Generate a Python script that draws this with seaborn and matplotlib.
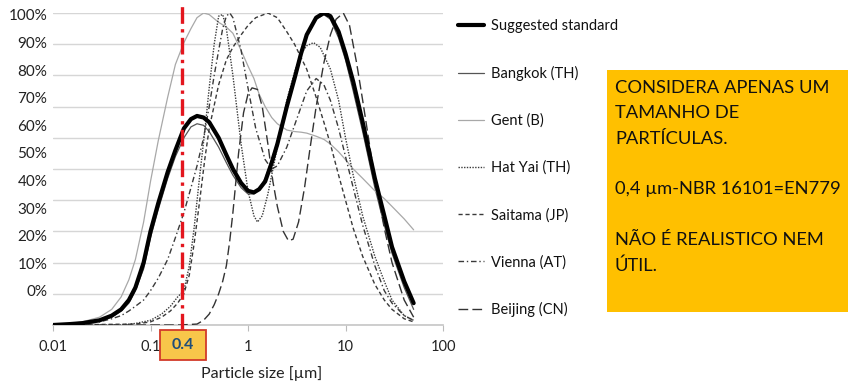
import numpy as np
import matplotlib.pyplot as plt
import matplotlib.ticker as mticker
from matplotlib.patches import Rectangle
import seaborn as sns

sns.set_theme(style="white")
plt.rcParams["font.family"] = ["Lato", "DejaVu Sans"]

# ---------------------------------------------------------------
# DATA (y = share of peak, %)
# ---------------------------------------------------------------
grid_x = [0.01, 0.015, 0.02, 0.03, 0.04, 0.05, 0.06, 0.07, 0.085, 0.1, 0.12, 0.15,
          0.18, 0.22, 0.26, 0.3, 0.35, 0.4, 0.5, 0.6, 0.7, 0.85, 1.0, 1.15, 1.3,
          1.5, 1.75, 2.0, 2.5, 3.0, 3.5, 4.0, 5.0, 6.0, 7.0, 8.5, 10, 12, 15, 20,
          25, 30, 40, 50]

standard_y = [0, 0.3, 0.6, 1.5, 3, 5, 8, 12, 20, 30, 39, 49, 56, 63, 66, 67, 66.5,
              65, 60, 54.5, 50, 45.5, 43, 42.5, 43.5, 46, 52, 58, 70, 79, 87, 93,
              98.5, 100, 99, 94, 87, 78, 65, 47, 35, 25, 14, 7]

bangkok_y = [0, 0.2, 0.4, 1.2, 2.5, 4.5, 7, 11, 18, 28, 37, 47, 54, 60, 63.5, 64.5,
             64, 62, 57, 52, 48, 44, 42, 42, 43.5, 47, 53, 59, 71, 80, 88, 93.5, 98,
             99.5, 98, 92, 85, 75, 62, 44, 32, 23, 12, 5]

gent_y = [0, 0.5, 1, 2.5, 5, 9, 14.5, 21, 33, 46, 59, 73, 83.5, 90.5, 95, 98.5, 100,
          99.5, 97, 95.5, 93.5, 88, 83, 79, 74, 70, 66.5, 64.5, 62.5, 62, 61.8, 61.5,
          60.5, 59.5, 58, 55.5, 53, 50, 47, 43, 40.5, 38, 34, 30.5]

hatyai_x = [0.01, 0.05, 0.07, 0.1, 0.13, 0.16, 0.19, 0.22, 0.25, 0.28, 0.32, 0.36,
            0.4, 0.45, 0.5, 0.55, 0.6, 0.7, 0.85, 1.0, 1.15, 1.25, 1.4, 1.6, 2.0,
            2.5, 3.0, 3.5, 4.0, 4.7, 5.5, 7, 8.5, 10, 12, 15, 20, 25, 30, 40, 50]
hatyai_y = [0, 0, 0.5, 1.5, 3.5, 6, 9, 11, 19, 31, 48, 62, 76, 90, 99, 99.5, 95, 80,
            58, 43, 35, 33, 35, 42, 57, 72, 81, 87, 89.5, 90.5, 89, 82, 72, 60, 48,
            35, 22, 14, 8, 3, 1.5]

saitama_x = [0.01, 0.07, 0.1, 0.13, 0.16, 0.19, 0.22, 0.25, 0.28, 0.32, 0.36, 0.4,
             0.5, 0.6, 0.7, 0.85, 1.0, 1.2, 1.6, 2.0, 2.5, 3.0, 4.0, 5.0, 6.0, 7.0,
             8.5, 10, 12, 15, 20, 25, 30, 40, 50]
saitama_y = [0, 0.3, 1, 2.5, 4.5, 7, 10, 16, 26, 40, 53, 63, 77, 85, 89, 93, 96,
             98.5, 100, 98.5, 94, 90, 82, 73, 65, 58, 48, 40, 31, 22, 13, 8, 5, 2, 1]

vienna_x = [0.01, 0.02, 0.03, 0.04, 0.05, 0.06, 0.07, 0.085, 0.1, 0.12, 0.15, 0.18,
            0.22, 0.26, 0.3, 0.35, 0.4, 0.45, 0.5, 0.55, 0.6, 0.65, 0.7, 0.85, 1.0,
            1.2, 1.5, 1.75, 2.0, 2.5, 3.0, 4.0, 5.0, 6.0, 7.0, 8.5, 10, 12, 15, 20,
            25, 30, 40, 50]
vienna_y = [0, 0.3, 1, 2, 3, 4.5, 6, 8, 11, 15, 21, 28, 36, 44, 51, 60, 70, 80, 88,
            95, 99, 100, 98.5, 88, 76, 63, 53, 50, 51, 57, 64, 75, 79, 77, 72, 63, 54,
            44, 32, 19, 11, 7, 3, 1.5]

beijing_x = [0.01, 0.2, 0.3, 0.35, 0.4, 0.45, 0.5, 0.55, 0.6, 0.65, 0.7, 0.8, 0.9,
             1.0, 1.1, 1.25, 1.4, 1.6, 1.8, 2.0, 2.3, 2.6, 2.9, 3.3, 3.8, 4.3, 5.0,
             6.0, 7.0, 8.0, 9.5, 11, 13, 15, 18, 20, 25, 30, 40, 50]
beijing_y = [0, 0, 0.3, 1.5, 3.5, 6.5, 10, 14, 19, 27, 36, 55, 68, 74, 76, 75.5, 70,
             58, 46, 38, 30, 27, 27.5, 33, 44, 56, 70, 84, 93, 98, 100, 96, 84, 72, 56,
             47, 31, 20, 8, 2.5]

x_ticks = [0.01, 0.1, 1, 10, 100]
x_tick_labels = ["0.01", "0.1", "1", "10", "100"]
y_tick_labels = ["0%", "10%", "20%", "30%", "40%", "50%", "60%", "70%", "80%", "90%", "100%"]
marked_size = 0.21          # where the red marker sits on the axis
marked_label = "0.4"

note_text = ("CONSIDERA APENAS UM\nTAMANHO DE\nPARTÍCULAS.\n\n"
             "0,4 µm-NBR 16101=EN779\n\nNÃO É REALISTICO NEM\nÚTIL.")

# ---------------------------------------------------------------
# PLOT
# ---------------------------------------------------------------
W, H = 848, 387
fig = plt.figure(figsize=(W / 100, H / 100), dpi=100)
fig.patch.set_facecolor("white")
ax = fig.add_axes([53 / W, 62 / H, 390 / W, 312 / H])

series = [
    ("Suggested standard", grid_x, standard_y, dict(color="black", lw=3.0, ls="-", zorder=5)),
    ("Bangkok (TH)", grid_x, bangkok_y, dict(color="#555555", lw=0.9, ls="-", zorder=3)),
    ("Gent (B)", grid_x, gent_y, dict(color="#A8A8A8", lw=0.9, ls="-", zorder=3)),
    ("Hat Yai (TH)", hatyai_x, hatyai_y, dict(color="#3a3a3a", lw=1.0, ls=(0, (1, 1)), zorder=3)),
    ("Saitama (JP)", saitama_x, saitama_y, dict(color="#3a3a3a", lw=1.0, ls=(0, (3, 2)), zorder=3)),
    ("Vienna (AT)", vienna_x, vienna_y, dict(color="#3a3a3a", lw=1.0, ls=(0, (4, 2, 1, 2)), zorder=3)),
    ("Beijing (CN)", beijing_x, beijing_y, dict(color="#333333", lw=1.0, ls=(0, (7, 3)), zorder=3)),
]
for name, xs, ys, style in series:
    sns.lineplot(x=xs, y=ys, ax=ax, label=name, **style)

ax.set_xscale("log")
ax.set_xlim(0.01, 100)
ax.set_ylim(0, 100)

ax.set_xticks(x_ticks)
ax.set_xticklabels(x_tick_labels)
ax.xaxis.set_minor_locator(mticker.NullLocator())
ax.tick_params(axis="x", bottom=True, length=4, width=0.8, color="#BBBBBB",
               pad=7, labelsize=10.5, labelcolor="#222222")

# the printed % labels sit slightly off the gridlines in the source
label_pos = [10.9 + 8.85 * i for i in range(len(y_tick_labels))]
ax.set_yticks(label_pos)
ax.set_yticklabels(y_tick_labels)
ax.set_yticks(np.arange(0, 101, 10), minor=True)
ax.tick_params(axis="y", which="both", length=0, pad=4, labelsize=11, labelcolor="#222222")
ax.grid(False)
ax.yaxis.grid(True, which="minor", color="#D6D6D6", lw=1.0)

for side in ["left", "top", "right"]:
    ax.spines[side].set_visible(False)
ax.spines["bottom"].set_color("#C8C8C8")

ax.set_xlabel("Particle size [µm]", fontsize=11.5, color="#222222")
ax.xaxis.set_label_coords((262 - 53) / 390, -(366 - 325) / 312)

# red marker line + boxed label
ax.axvline(marked_size, ymin=-0.016, ymax=1.035, color="#E3161E", lw=2.4,
           ls=(0, (5, 1.6, 1, 1.6)), clip_on=False, zorder=6)
fig.add_artist(Rectangle((160 / W, 1 - 360 / H), 46 / W, 30 / H, transform=fig.transFigure,
                         facecolor="#F8C64A", edgecolor="#D23A2A", lw=1.3, zorder=10))
fig.text(183 / W, 1 - 345 / H, marked_label, ha="center", va="center", fontsize=11.5,
         fontweight="bold", color="#1F4E79", zorder=11)

# legend
handles, labels = ax.get_legend_handles_labels()
if ax.get_legend() is not None:
    ax.get_legend().remove()
fig.legend(handles, labels, loc="upper left", bbox_to_anchor=(458 / W, 1 - 19 / H),
           frameon=False, fontsize=10.5, handlelength=1.8, handletextpad=0.45,
           labelspacing=2.25, borderpad=0, borderaxespad=0, labelcolor="#111111")

# orange note
fig.add_artist(Rectangle((607 / W, 1 - 312 / H), 241 / W, 242 / H, transform=fig.transFigure,
                         facecolor="#FFC000", edgecolor="none", zorder=1))
fig.text(615 / W, 1 - 80 / H, note_text, ha="left", va="top", fontsize=13.2,
         linespacing=1.72, color="#111111", zorder=2)

fig.savefig("out.png", dpi=100)
